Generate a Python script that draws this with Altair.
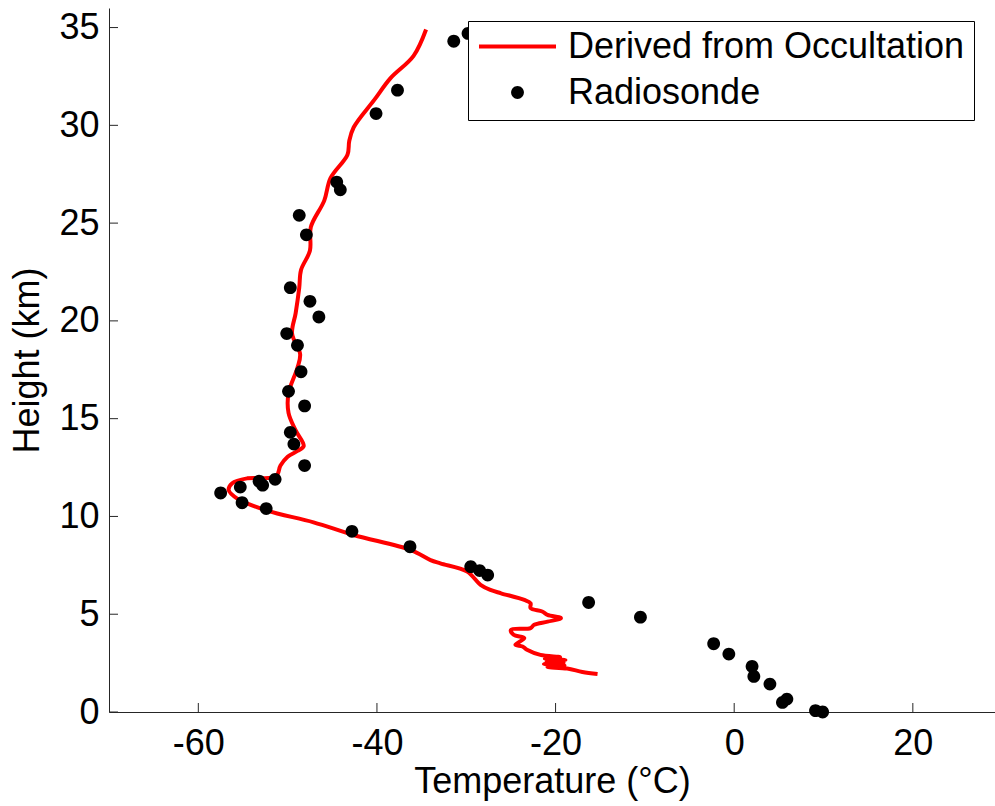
import altair as alt
import pandas as pd

FONT = "Liberation Sans"
FS = 36

# Occultation-derived profile (temperature degC, height km), bottom to top
occ_temp = [-15.3, -17.0, -18.7, -20.9, -19.0, -21.3, -19.1, -21.0, -18.9, -21.2,
            -19.5, -21.7, -23.2, -23.7, -24.5, -23.5, -24.7, -25.0, -22.8, -22.4,
            -20.9, -19.4, -20.9, -21.5, -22.8, -22.8, -23.5, -26.1, -27.3, -28.4,
            -29.9, -32.9, -34.0, -36.2, -42.6, -47.1, -52.3, -55.6, -56.6, -56.2,
            -54.5, -51.3, -50.8, -50.0, -48.9, -48.2, -49.1, -49.9, -49.9, -48.9,
            -48.6, -49.5, -49.1, -48.7, -48.5, -47.5, -47.4, -45.9, -45.2, -43.3,
            -43.1, -42.6, -40.3, -38.5, -35.9, -34.5]
occ_height = [1.94, 2.05, 2.22, 2.30, 2.38, 2.45, 2.52, 2.58, 2.66, 2.72,
              2.80, 2.92, 3.18, 3.35, 3.44, 3.78, 3.95, 4.20, 4.29, 4.46,
              4.62, 4.80, 4.97, 5.14, 5.31, 5.56, 5.73, 6.07, 6.24, 6.50,
              7.18, 7.60, 7.77, 8.28, 9.05, 9.70, 10.30, 10.90, 11.35, 11.70,
              11.95, 12.05, 12.60, 13.05, 13.35, 13.60, 14.40, 15.30, 16.30, 17.60,
              18.30, 19.35, 20.40, 21.70, 22.60, 23.60, 24.80, 26.15, 27.30, 28.50,
              29.20, 29.90, 31.30, 32.40, 33.55, 34.90]

# Radiosonde observations
rs_temp = [-29.8, -31.4, -37.7, -40.1, -44.5, -44.1, -48.7, -47.9, -49.7, -47.5,
           -46.5, -50.1, -48.9, -48.5, -49.9, -48.1, -49.7, -49.3, -48.1, -51.4,
           -53.2, -52.8, -55.3, -57.5, -55.1, -52.4, -42.8, -36.3, -29.5, -28.5,
           -27.6, -16.3, -10.5, -2.3, -0.6, 2.0, 2.2, 4.0, 5.9, 5.4, 9.1, 9.9]
rs_height = [34.7, 34.3, 31.8, 30.6, 27.1, 26.7, 25.4, 24.4, 21.7, 21.0,
             20.2, 19.35, 18.75, 17.4, 16.4, 15.65, 14.3, 13.7, 12.6, 11.9,
             11.8, 11.6, 11.5, 11.2, 10.7, 10.4, 9.24, 8.45, 7.43, 7.23,
             7.0, 5.6, 4.85, 3.49, 2.96, 2.33, 1.82, 1.43, 0.66, 0.49, 0.07, 0.0]

series_names = ["Derived from Occultation", "Radiosonde"]
x_ticks = [-60, -40, -20, 0, 20]
y_ticks = [0, 5, 10, 15, 20, 25, 30, 35]

occ = pd.DataFrame({"T": occ_temp, "H": occ_height, "idx": list(range(len(occ_temp))),
                    "series": series_names[0]})
rs = pd.DataFrame({"T": rs_temp, "H": rs_height, "series": series_names[1]})
xt = pd.DataFrame({"T": x_ticks})
yt = pd.DataFrame({"H": y_ticks})

W, H = 886, 704
x_scale = alt.Scale(domain=[-70, 29.2], nice=False, zero=False)
y_scale = alt.Scale(domain=[0, 36], nice=False, zero=False)

x_axis = alt.Axis(values=x_ticks, ticks=False, tickSize=0, grid=False,
                  domainColor="#262626", domainWidth=1,
                  labelExpr="replace(datum.label, '\u2212', '-')",
                  labelFont=FONT, labelFontSize=FS, labelColor="black", labelPadding=14,
                  title="Temperature (°C)", titleFont=FONT, titleFontSize=FS,
                  titleFontWeight="normal", titleColor="black", titlePadding=3)
y_axis = alt.Axis(values=y_ticks, ticks=False, tickSize=0, grid=False,
                  domainColor="#262626", domainWidth=1,
                  labelFont=FONT, labelFontSize=FS, labelColor="black", labelPadding=10,
                  title="Height (km)", titleFont=FONT, titleFontSize=FS,
                  titleFontWeight="normal", titleColor="black", titlePadding=12)

SYM = 5929  # symbol size: stroke sample length = sqrt(SYM) = 77 px
r = 6.4 / (SYM ** 0.5 / 2)
DOT = f"M{r:.4f},0A{r:.4f},{r:.4f} 0 1,1 {-r:.4f},0A{r:.4f},{r:.4f} 0 1,1 {r:.4f},0Z"

legend = alt.Legend(
    orient="none", legendX=359, legendY=13, title=None,
    strokeColor="black", fillColor="white", padding=9,
    labelFont=FONT, labelFontSize=FS, labelColor="black", labelLimit=0,
    labelOffset=10, rowPadding=9, clipHeight=33, symbolSize=SYM, symbolStrokeWidth=4,
    symbolOpacity=1,
)

line = alt.Chart(occ).mark_line(strokeWidth=4, strokeJoin="round",
                                interpolate="catmull-rom").encode(
    x=alt.X("T:Q", scale=x_scale, axis=x_axis),
    y=alt.Y("H:Q", scale=y_scale, axis=y_axis),
    order=alt.Order("idx:Q"),
    stroke=alt.Stroke("series:N", scale=alt.Scale(domain=series_names,
                                                  range=["red", "transparent"]),
                      legend=legend),
)
points = alt.Chart(rs).mark_point(filled=True, size=SYM, opacity=1, strokeWidth=0).encode(
    x=alt.X("T:Q", scale=x_scale),
    y=alt.Y("H:Q", scale=y_scale),
    fill=alt.Fill("series:N", scale=alt.Scale(domain=series_names,
                                              range=["transparent", "black"]),
                  legend=legend),
    shape=alt.Shape("series:N", scale=alt.Scale(domain=series_names,
                                                range=["stroke", DOT]),
                    legend=legend),
)
xtick = alt.Chart(xt).mark_rule(color="#262626", strokeWidth=1).encode(
    x=alt.X("T:Q", scale=x_scale), y=alt.value(H), y2=alt.value(H - 9))
ytick = alt.Chart(yt).mark_rule(color="#262626", strokeWidth=1).encode(
    y=alt.Y("H:Q", scale=y_scale), x=alt.value(0), x2=alt.value(9))

chart = alt.layer(xtick, ytick, line, points).properties(
    width=W, height=H,
    padding={"left": 109, "top": 8, "right": 0, "bottom": 94},
    autosize=alt.AutoSizeParams(type="none"),
    background="white",
).configure_view(stroke=None)

chart.save("out.html", embed_options={"renderer": "svg", "actions": False})
